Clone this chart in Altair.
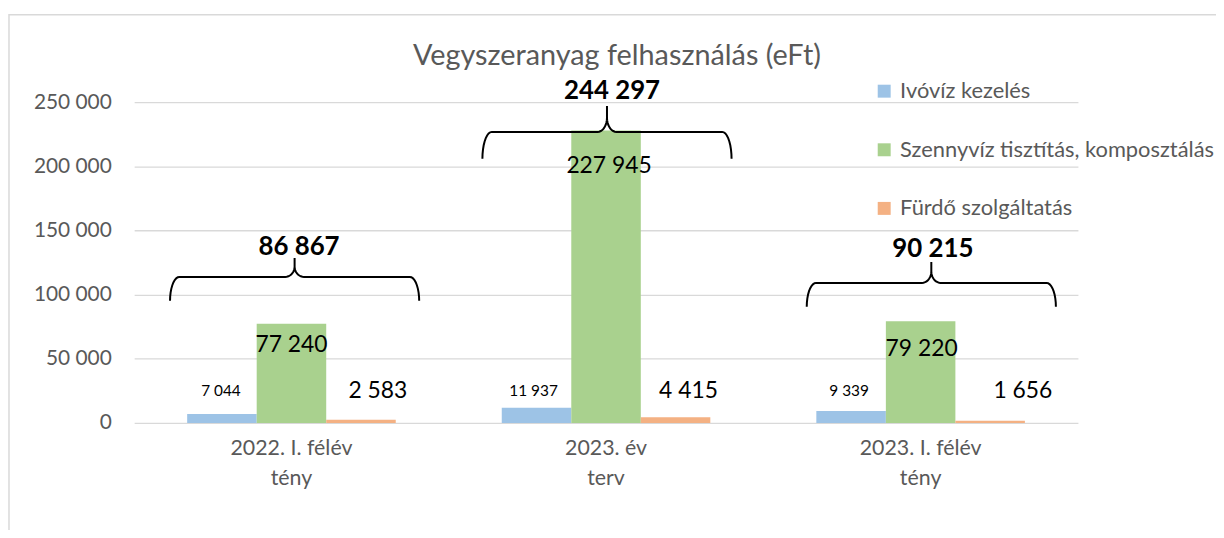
import altair as alt
import pandas as pd
import numpy as np

# ---------------- data ----------------
categories = ["2022. I. félév\ntény", "2023. év\nterv", "2023. I. félév\ntény"]
series = ["Ivóvíz kezelés", "Szennyvíz tisztítás, komposztálás", "Fürdő szolgáltatás"]
ivoviz = [7044, 11937, 9339]
szennyviz = [77240, 227945, 79220]
furdo = [2583, 4415, 1656]
y_ticks = [0, 50000, 100000, 150000, 200000, 250000]
title_text = "Vegyszeranyag felhasználás (eFt)"

# ---------------- style ----------------
colors = ["#9DC3E6", "#A9D18E", "#F4B183"]
FONT = "Lato"
GREY = "#595959"
PX = 250000 / 323.0          # data units per pixel (y)
STEP = 950 / 3.0             # pixels per category
PAD_INNER = 0.337
BAR_FRAC = (1 - PAD_INNER) / 3
# label nudges (pixels) per series, per category
label_dx = [[-1, -3, -2], [0, 3, 1], [17, 13, 33]]
green_label_dy = [21, 36, 28]
small_label_px = 32          # pixels above zero line
label_sizes = [15.5, 23, 23]
# braces (category units / data units)
brace_cx = [0.51, 1.503, 2.534]
brace_hw = 0.396
brace_base = [95200, 205900, 90560]
brace_mid = [113800, 226800, 109140]
brace_tip = [128500, 246900, 125400]
total_x = [0.524, 1.519, 2.539]
total_y = [137000, 258500, 135450]

def fmt(v):
    return f"{v:,}".replace(",", " ")

vals = [ivoviz, szennyviz, furdo]
rows = []
for s, ser in enumerate(series):
    for i, cat in enumerate(categories):
        rows.append({"cat": cat, "series": ser, "value": vals[s][i]})
df = pd.DataFrame(rows)

# labels
lrows = []
for s, ser in enumerate(series):
    for i, cat in enumerate(categories):
        v = vals[s][i]
        xq = i + 0.5 + (s - 1) * BAR_FRAC + label_dx[s][i] / STEP
        if s == 1:
            yq = v - green_label_dy[i] * PX
        else:
            yq = small_label_px * PX
        lrows.append({"xq": xq, "yq": yq, "txt": fmt(v), "s": s})
ldf = pd.DataFrame(lrows)

totals = [sum(vals[s][i] for s in range(3)) for i in range(3)]
tdf = pd.DataFrame({"xq": total_x, "yq": total_y, "txt": [fmt(t) for t in totals]})

# braces
brows = []
rx = 0.03
for b in range(3):
    cx, L, R = brace_cx[b], brace_cx[b] - brace_hw, brace_cx[b] + brace_hw
    y0, y1, y3 = brace_base[b], brace_mid[b], brace_tip[b]
    y2 = y1 + 0.55 * (y3 - y1)
    pts = []
    for t in np.linspace(np.pi, np.pi / 2, 10):
        pts.append((L + rx + rx * np.cos(t), y0 + (y1 - y0) * np.sin(t)))
    for t in np.linspace(-np.pi / 2, 0, 10):
        pts.append((cx - rx + rx * np.cos(t), y2 + (y2 - y1) * np.sin(t)))
    pts.append((cx, y3))
    pts.append((cx, y2))
    for t in np.linspace(np.pi, 1.5 * np.pi, 10):
        pts.append((cx + rx + rx * np.cos(t), y2 + (y2 - y1) * np.sin(t)))
    for t in np.linspace(np.pi / 2, 0, 10):
        pts.append((R - rx + rx * np.cos(t), y0 + (y1 - y0) * np.sin(t)))
    for k, (px_, py_) in enumerate(pts):
        brows.append({"b": b, "k": k, "xq": px_, "yq": py_})
bdf = pd.DataFrame(brows)

yscale = alt.Scale(domain=[0, 250000], nice=False)
xq_scale = alt.Scale(domain=[0, 3], nice=False, zero=False)

bars = alt.Chart(df).mark_bar().encode(
    x=alt.X("cat:N", sort=categories,
            scale=alt.Scale(paddingInner=PAD_INNER, paddingOuter=PAD_INNER / 2),
            axis=alt.Axis(title=None, labelExpr="split(datum.label, '\\n')",
                          labelAngle=0, domain=False, ticks=False,
                          labelFont=FONT, labelFontSize=21.5, labelColor=GREY,
                          labelPadding=15, labelLineHeight=30)),
    xOffset=alt.XOffset("series:N", sort=series,
                        scale=alt.Scale(paddingInner=0, paddingOuter=0)),
    y=alt.Y("value:Q", scale=yscale,
            axis=alt.Axis(title=None, values=y_ticks, domain=False, ticks=False,
                          grid=True, gridColor="#d9d9d9", gridWidth=1.3,
                          labelExpr="replace(format(datum.value, ','), regexp(',', 'g'), ' ')",
                          labelFont=FONT, labelFontSize=21, labelColor=GREY,
                          labelPadding=23)),
    color=alt.Color("series:N", sort=series,
                    scale=alt.Scale(domain=series, range=colors),
                    legend=alt.Legend(title=None, orient="none", legendX=744, legendY=-22,
                                      direction="vertical", symbolType="square",
                                      symbolSize=170, symbolStrokeWidth=0,
                                      labelFont=FONT, labelFontSize=22, labelColor=GREY,
                                      labelOffset=5, rowPadding=37, labelLimit=0)),
)

label_layers = []
for s in range(3):
    label_layers.append(
        alt.Chart(ldf[ldf.s == s]).mark_text(font=FONT, fontSize=label_sizes[s],
                                             color="#000000", baseline="middle")
        .encode(x=alt.X("xq:Q", scale=xq_scale, axis=None),
                y=alt.Y("yq:Q", scale=yscale),
                text="txt:N"))

tot = alt.Chart(tdf).mark_text(font=FONT, fontSize=26, fontWeight="bold",
                               color="#000000", baseline="middle").encode(
    x=alt.X("xq:Q", scale=xq_scale, axis=None),
    y=alt.Y("yq:Q", scale=yscale),
    text="txt:N")

braces = alt.Chart(bdf).mark_line(color="#000000", strokeWidth=2).encode(
    x=alt.X("xq:Q", scale=xq_scale, axis=None),
    y=alt.Y("yq:Q", scale=yscale),
    detail="b:N", order="k:Q")

one = pd.DataFrame({"a": [0]})
frame = alt.Chart(one).mark_rect(fillOpacity=0, stroke="#d9d9d9", strokeWidth=1.5).encode(
    x=alt.value(-126), x2=alt.value(1100), y=alt.value(-88), y2=alt.value(460))
title = alt.Chart(pd.DataFrame({"t": [title_text]})).mark_text(
    font=FONT, fontSize=29, color=GREY, baseline="middle", align="center").encode(
    x=alt.value(486), y=alt.value(-46), text="t:N")

chart = alt.layer(frame, bars, *label_layers, tot, braces, title).resolve_scale(
    x="independent"
).properties(
    width=950, height=323,
    padding={"left": 127, "top": 93, "right": 139, "bottom": 106},
    autosize=alt.AutoSizeParams(type="none"),
    background="white",
).configure_view(stroke=None)

chart.save("out.html", embed_options={"renderer": "svg", "actions": False})
